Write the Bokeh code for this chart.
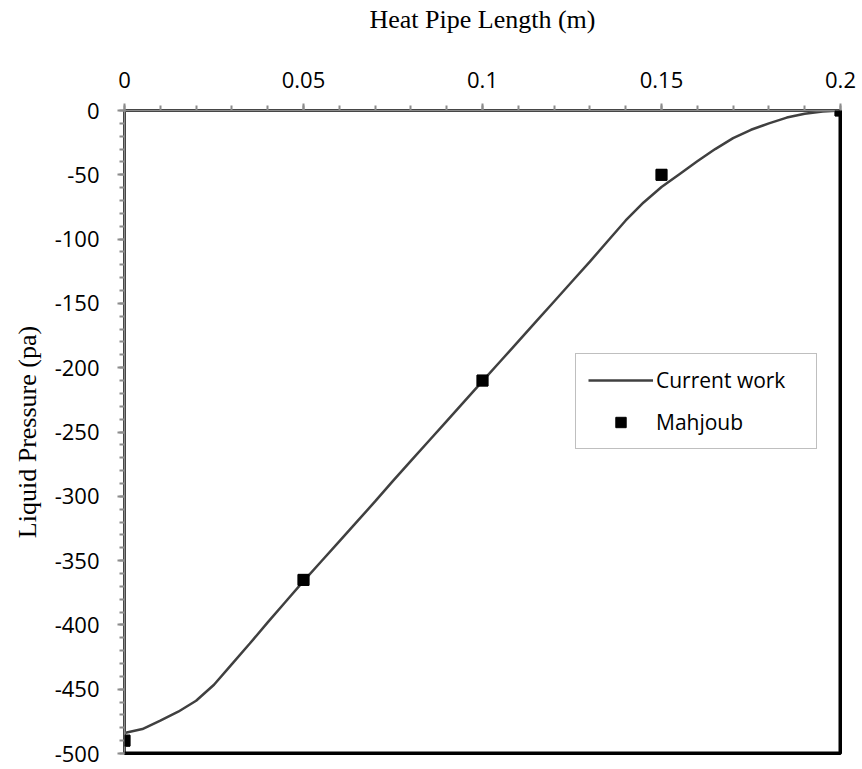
from bokeh.plotting import figure
from bokeh.models import FixedTicker, Range1d, Legend, LegendItem, Span, BoxAnnotation
from bokeh.embed import file_html
from bokeh.resources import INLINE

# Current work curve
cur_x = [0, 0.005, 0.01, 0.015, 0.02, 0.025, 0.03, 0.035, 0.04, 0.045, 0.05,
         0.055, 0.06, 0.065, 0.07, 0.075, 0.08, 0.085, 0.09, 0.095, 0.1,
         0.105, 0.11, 0.115, 0.12, 0.125, 0.13, 0.135, 0.14, 0.145, 0.15,
         0.155, 0.16, 0.165, 0.17, 0.175, 0.18, 0.185, 0.19, 0.195, 0.2]
cur_y = [-484, -481, -474.5, -467.5, -459, -446.5, -430.5, -414.5, -398, -382, -366,
         -350.5, -335, -319.5, -304, -288, -272.5, -257, -241.5, -226, -210.5,
         -195, -179.5, -164, -148.5, -133, -117.5, -101.5, -85.5, -71.5, -59.5,
         -49.5, -39.5, -30, -21.5, -15, -10, -5.5, -2.6, -0.7, 0]

# Mahjoub data
mah_x = [0, 0.05, 0.1, 0.15, 0.2]
mah_y = [-490, -365, -210, -50, 0]

x_ticks = [0, 0.05, 0.1, 0.15, 0.2]
x_tick_labels = ["0", "0.05", "0.1", "0.15", "0.2"]
x_minor = [round(i * 0.01, 2) for i in range(21)]
y_ticks = list(range(-500, 1, 50))
y_tick_labels = [str(v) for v in y_ticks]
y_minor = list(range(-500, 1, 10))

x_lo, x_hi = 0, 0.2
y_lo, y_hi = -500, 0

W, H = 862, 769
ML, MR, MT, MB = 124, 22, 110, 16

p = figure(width=W, height=H, output_backend="svg", toolbar_location=None,
           x_axis_location="above",
           x_range=Range1d(x_lo, x_hi), y_range=Range1d(y_lo, y_hi),
           min_border_left=ML, min_border_right=MR, min_border_top=MT, min_border_bottom=MB)
p.background_fill_color = "white"
p.border_fill_color = "white"
p.grid.visible = False
p.outline_line_color = "black"
p.outline_line_width = 3

for ax in (p.xaxis[0], p.yaxis[0]):
    ax.axis_line_color = "#8c8c8c"
    ax.axis_line_width = 2
    ax.major_tick_line_color = "#8c8c8c"
    ax.minor_tick_line_color = "#8c8c8c"
    ax.major_tick_line_width = 2
    ax.minor_tick_line_width = 2
    ax.major_tick_out = 7
    ax.major_tick_in = 0
    ax.minor_tick_out = 5
    ax.minor_tick_in = 0
    ax.major_label_text_font = "Open Sans"
    ax.major_label_text_font_size = "22px"
    ax.major_label_text_color = "black"
    ax.axis_label_text_font = "Liberation Serif"
    ax.axis_label_text_font_size = "26px"
    ax.axis_label_text_font_style = "normal"
    ax.axis_label_text_color = "black"

p.xaxis.ticker = FixedTicker(ticks=x_ticks, minor_ticks=x_minor)
p.xaxis.major_label_overrides = dict(zip(x_ticks, x_tick_labels))
p.xaxis.major_label_standoff = 16
p.xaxis.axis_label = "Heat Pipe Length (m)"
p.xaxis.axis_label_standoff = 35

p.yaxis.ticker = FixedTicker(ticks=y_ticks, minor_ticks=y_minor)
p.yaxis.major_label_overrides = dict(zip(y_ticks, y_tick_labels))
p.yaxis.major_label_standoff = 18
p.yaxis.axis_label = "Liquid Pressure (pa)"
p.yaxis.axis_label_standoff = 10

# heavy right and bottom frame edges
p.add_layout(Span(location=x_hi, dimension="height", line_color="black", line_width=4))
p.add_layout(Span(location=y_lo, dimension="width", line_color="black", line_width=4))

r_line = p.line(cur_x, cur_y, line_color="#404040", line_width=2.5)
MSIZE = 11
r_pts = p.scatter(mah_x, mah_y, marker="square", size=MSIZE, fill_color="black", line_color="black")

# unclipped copies of the markers (so edge markers are drawn whole, as in the reference)
fw, fh = W - ML - MR, H - MT - MB
hx = (MSIZE / 2) / fw * (x_hi - x_lo)
hy = (MSIZE / 2) / fh * (y_hi - y_lo)
for mx, my in zip(mah_x, mah_y):
    p.add_layout(BoxAnnotation(left=mx - hx, right=mx + hx, bottom=my - hy, top=my + hy,
                               fill_color="black", fill_alpha=1, line_color="black",
                               line_alpha=1, line_width=0.5))

legend = Legend(items=[LegendItem(label="Current work", renderers=[r_line]),
                       LegendItem(label="Mahjoub", renderers=[r_pts])],
                location=(451, 304))
legend.label_text_font = "Open Sans"
legend.label_text_font_size = "21px"
legend.label_text_color = "black"
legend.glyph_width = 65
legend.glyph_height = 26
legend.label_height = 26
legend.label_width = 148
legend.label_standoff = 3
legend.spacing = 14
legend.padding = 12
legend.margin = 0
legend.border_line_color = "#7f7f7f"
legend.border_line_width = 1.5
legend.background_fill_color = "white"
legend.background_fill_alpha = 1
p.add_layout(legend, "center")

open("out.html", "w").write(file_html(p, INLINE))
